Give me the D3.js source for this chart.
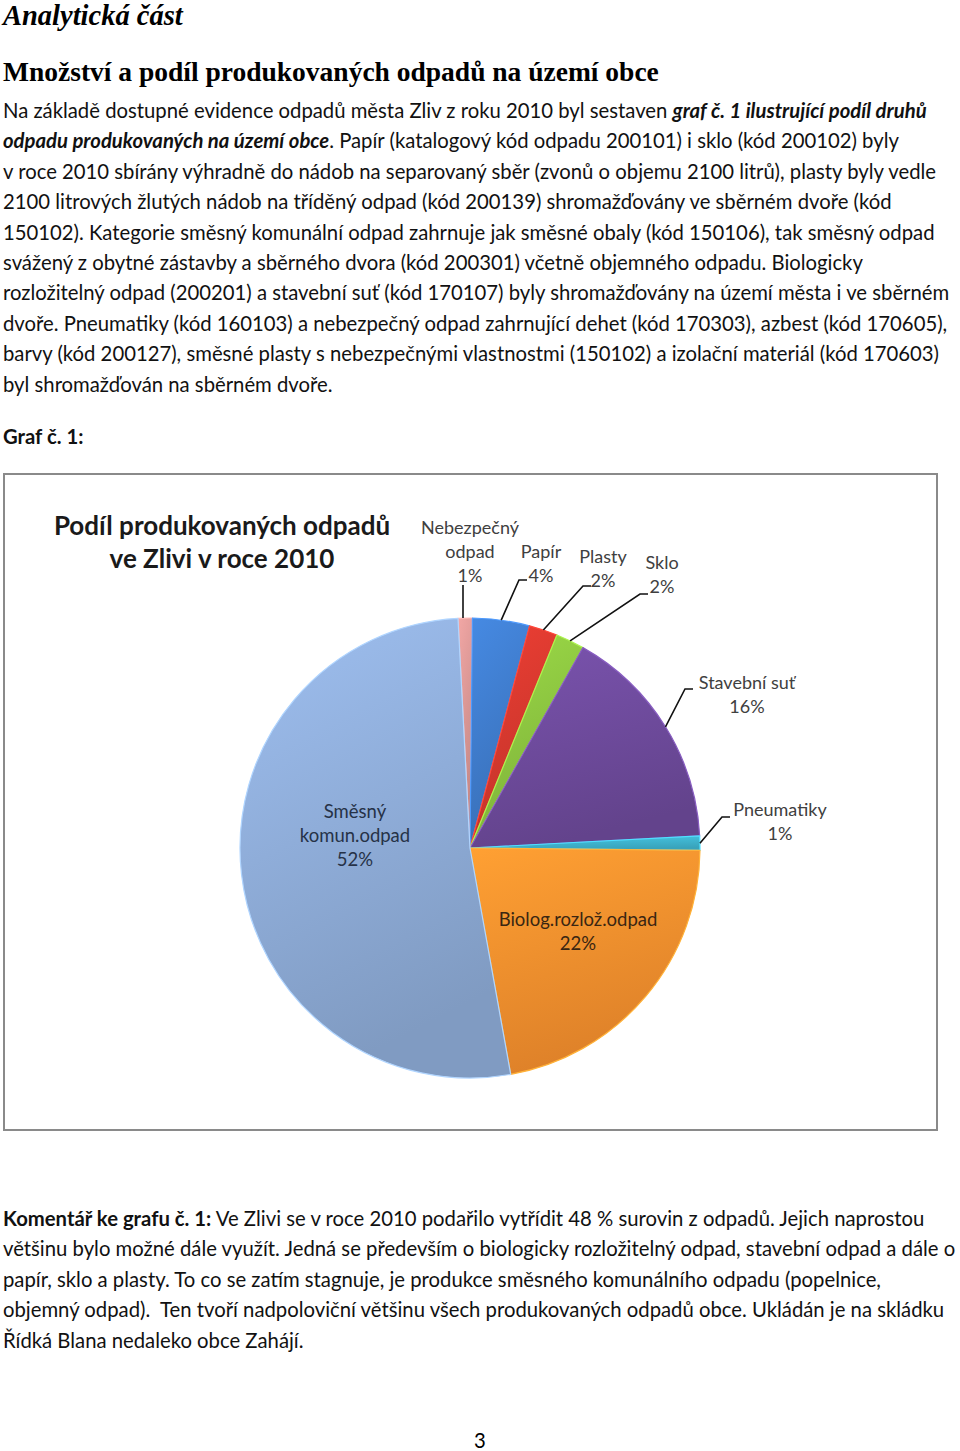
<!DOCTYPE html>
<html>
<head>
<meta charset="utf-8">
<script src="https://cdn.jsdelivr.net/npm/d3@7"></script>
<style>
body { margin: 0; background: #fff; }
svg { display: block; }
</style>
</head>
<body>
<svg id="page" width="960" height="1451"></svg>
<script>
// --- chart data (clockwise from the top) ---
categories = ['Nebezpečný odpad', 'Papír', 'Plasty', 'Sklo', 'Stavební suť', 'Pneumatiky', 'Biolog.rozlož.odpad', 'Směsný komun.odpad'];
labelLines = [['Nebezpečný', 'odpad'], ['Papír'], ['Plasty'], ['Sklo'], ['Stavební suť'], ['Pneumatiky'], ['Biolog.rozlož.odpad'], ['Směsný', 'komun.odpad']];
shares = [1, 4, 2, 2, 16, 1, 22, 52];
colors = ['#d99694', '#3f7ccc', '#d7392f', '#8cc540', '#6e4b9c', '#3fb5d0', '#f7902e', '#8eacd8'];
chartTitle = ['Podíl produkovaných odpadů', 've Zlivi v roce 2010'];

// --- document text ---
heading1 = 'Analytická část';
heading2 = 'Množství a podíl produkovaných odpadů na území obce';
// each line: list of [text, style] pieces; style '' normal, 'bi' bold italic, 'b' bold
introLines = [
    [['Na základě dostupné evidence odpadů města Zliv z roku 2010 byl sestaven ', ''], ['graf č. 1 ilustrující podíl druhů', 'bi']],
    [['odpadu produkovaných na území obce', 'bi'], ['. Papír (katalogový kód odpadu 200101) i sklo (kód 200102) byly', '']],
    [['v roce 2010 sbírány výhradně do nádob na separovaný sběr (zvonů o objemu 2100 litrů), plasty byly vedle', '']],
    [['2100 litrových žlutých nádob na tříděný odpad (kód 200139) shromažďovány ve sběrném dvoře (kód', '']],
    [['150102). Kategorie směsný komunální odpad zahrnuje jak směsné obaly (kód 150106), tak směsný odpad', '']],
    [['svážený z obytné zástavby a sběrného dvora (kód 200301) včetně objemného odpadu. Biologicky', '']],
    [['rozložitelný odpad (200201) a stavební suť (kód 170107) byly shromažďovány na území města i ve sběrném', '']],
    [['dvoře. Pneumatiky (kód 160103) a nebezpečný odpad zahrnující dehet (kód 170303), azbest (kód 170605),', '']],
    [['barvy (kód 200127), směsné plasty s nebezpečnými vlastnostmi (150102) a izolační materiál (kód 170603)', '']],
    [['byl shromažďován na sběrném dvoře.', '']]
];
grafLabel = 'Graf č. 1:';
commentLines = [
    [['Komentář ke grafu č. 1:', 'b'], [' Ve Zlivi se v roce 2010 podařilo vytřídit 48 % surovin z odpadů. Jejich naprostou', '']],
    [['většinu bylo možné dále využít. Jedná se především o biologicky rozložitelný odpad, stavební odpad a dále o', '']],
    [['papír, sklo a plasty. To co se zatím stagnuje, je produkce směsného komunálního odpadu (popelnice,', '']],
    [['objemný odpad).  Ten tvoří nadpoloviční většinu všech produkovaných odpadů obce. Ukládán je na skládku', '']],
    [['Řídká Blana nedaleko obce Zahájí.', '']]
];
pageNumber = '3';

// --- layout ---
svg = d3.select('#page');
bodyFont = 'Lato, "Open Sans", sans-serif';
serifFont = '"Liberation Serif", "DejaVu Serif", serif';
bodySize = 20.3;

svg.append('text')
    .attr('x', 3).attr('y', 25)
    .attr('font-family', serifFont).attr('font-size', 28.5)
    .attr('font-weight', 'bold').attr('font-style', 'italic')
    .text(heading1);

svg.append('text')
    .attr('x', 3).attr('y', 81)
    .attr('font-family', serifFont).attr('font-size', 27.5)
    .attr('font-weight', 'bold')
    .text(heading2);

function write_lines(lines, y0, step){
    lines.forEach(function(line, i){
        t = svg.append('text')
            .attr('x', 3).attr('y', y0 + i * step)
            .attr('font-family', bodyFont).attr('font-size', bodySize)
            .attr('fill', '#111')
            .attr('xml:space', 'preserve');
        line.forEach(function(piece){
            ts = t.append('tspan').text(piece[0]);
            if(piece[1].indexOf('b') >= 0){ ts.attr('font-weight', 'bold'); }
            if(piece[1].indexOf('i') >= 0){ ts.attr('font-style', 'italic'); }
        });
    });
}

write_lines(introLines, 118, 30.4);

svg.append('text')
    .attr('x', 3).attr('y', 444)
    .attr('font-family', bodyFont).attr('font-size', bodySize)
    .attr('font-weight', 'bold').attr('fill', '#111')
    .text(grafLabel);

write_lines(commentLines, 1226, 30.4);

svg.append('text')
    .attr('x', 480).attr('y', 1448)
    .attr('text-anchor', 'middle')
    .attr('font-family', bodyFont).attr('font-size', bodySize)
    .text(pageNumber);

// --- chart frame ---
svg.append('rect')
    .attr('x', 4).attr('y', 474)
    .attr('width', 933).attr('height', 656)
    .attr('fill', '#fff')
    .attr('stroke', '#8a8a8a').attr('stroke-width', 2);

chartTitle.forEach(function(line, i){
    svg.append('text')
        .attr('x', 222).attr('y', 535 + i * 33)
        .attr('text-anchor', 'middle')
        .attr('font-family', bodyFont).attr('font-size', 26)
        .attr('font-weight', 'bold').attr('fill', '#1a1a1a')
        .text(line);
});

// --- pie ---
cx = 470; cy = 848; r = 230;
offset = -3 * Math.PI / 180;

pie = d3.pie().sort(null).value(d => d)
    .startAngle(offset).endAngle(2 * Math.PI + offset);
arcs = pie(shares);
arc = d3.arc().innerRadius(0).outerRadius(r);
edgeArc = d3.arc().innerRadius(r).outerRadius(r);

defs = svg.append('defs');
colors.forEach(function(c, i){
    g = defs.append('linearGradient').attr('id', 'grad' + i)
        .attr('x1', 0).attr('y1', 0).attr('x2', 0.3).attr('y2', 1);
    g.append('stop').attr('offset', '0%').attr('stop-color', d3.color(c).brighter(0.3));
    g.append('stop').attr('offset', '100%').attr('stop-color', d3.color(c).darker(0.3));
});

pieG = svg.append('g').attr('transform', `translate(${cx},${cy})`);
pieG.selectAll('path.slice')
    .data(arcs)
    .enter().append('path')
    .attr('class', 'slice')
    .attr('d', arc)
    .attr('fill', (d, i) => `url(#grad${i})`)
    .attr('stroke', (d, i) => d3.color(colors[i]).brighter(0.6))
    .attr('stroke-width', 1.2)
    .attr('stroke-linejoin', 'round');

// outside labels: first baseline and the elbow of the leader line
outsideLayout = [
    {x: 470, y: 534, ex: 463, ey: 585, anchor: 'vertical'},
    {x: 541, y: 558, ex: 519, ey: 580},
    {x: 603, y: 563, ex: 583, ey: 586},
    {x: 662, y: 569, ex: 640, ey: 594},
    {x: 747, y: 689, ex: 685, ey: 689},
    {x: 780, y: 816, ex: 722, ey: 817}
];
insideLayout = [
    null, null, null, null, null, null,
    {x: 578, y: 926},
    {x: 355, y: 818}
];

arcs.forEach(function(d, i){
    lines = labelLines[i].concat([shares[i] + '%']);
    if(outsideLayout[i]){
        L = outsideLayout[i];
        p = edgeArc.centroid(d);
        px = cx + p[0]; py = cy + p[1];
        if(L.anchor === 'vertical'){
            pts = [[L.ex, py], [L.ex, L.ey]];
        } else {
            pts = [[px, py], [L.ex, L.ey], [L.ex + 8, L.ey]];
        }
        svg.append('path')
            .attr('d', d3.line()(pts))
            .attr('fill', 'none')
            .attr('stroke', '#111').attr('stroke-width', 1.6);
        lines.forEach(function(s, k){
            svg.append('text')
                .attr('x', L.x).attr('y', L.y + k * 24)
                .attr('text-anchor', 'middle')
                .attr('font-family', bodyFont).attr('font-size', 18)
                .attr('fill', '#404040')
                .text(s);
        });
    } else {
        L = insideLayout[i];
        lines.forEach(function(s, k){
            svg.append('text')
                .attr('x', L.x).attr('y', L.y + k * 24)
                .attr('text-anchor', 'middle')
                .attr('font-family', bodyFont).attr('font-size', 18.5)
                .attr('fill', i === 6 ? '#3a2612' : '#263247')
                .text(s);
        });
    }
});
</script>
</body>
</html>
